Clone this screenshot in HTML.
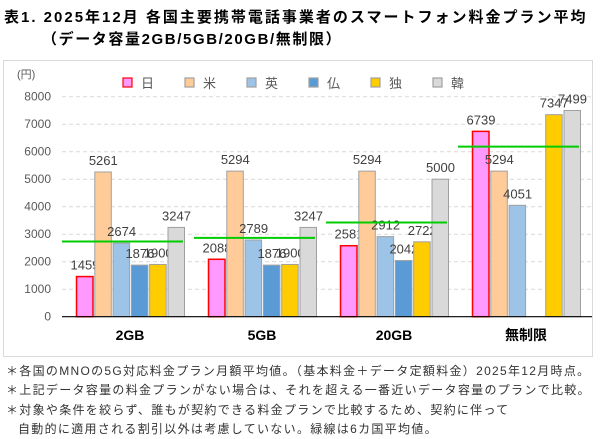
<!DOCTYPE html>
<html><head><meta charset="utf-8">
<style>
body{margin:0;background:#fff;width:603px;height:439px;overflow:hidden;font-family:"Liberation Sans","Noto Sans CJK JP",sans-serif;}
.t{position:absolute;font-weight:bold;font-size:15px;color:#000;white-space:nowrap;letter-spacing:2px;}
.n{position:absolute;left:6px;font-size:12px;color:#333;white-space:nowrap;letter-spacing:1.3px;}
</style></head><body>
<div class="t" style="left:4px;top:6px;">表1. 2025年12月 各国主要携帯電話事業者のスマートフォン料金プラン平均</div>
<div class="t" style="left:42px;top:28px;letter-spacing:1.6px;">（データ容量2GB/5GB/20GB/無制限）</div>
<svg id="chart" style="position:absolute;left:0;top:0" width="603" height="439"></svg>
<div class="n" style="top:362px;">＊各国のMNOの5G対応料金プラン月額平均値。（基本料金＋データ定額料金）2025年12月時点。</div>
<div class="n" style="top:381px;">＊上記データ容量の料金プランがない場合は、それを超える一番近いデータ容量のプランで比較。</div>
<div class="n" style="top:401px;">＊対象や条件を絞らず、誰もが契約できる料金プランで比較するため、契約に伴って</div>
<div class="n" style="top:420px;left:18px;">自動的に適用される割引以外は考慮していない。緑線は6カ国平均値。</div>
<script>
const categories=["2GB","5GB","20GB","無制限"];
const countries=["日","米","英","仏","独","韓"];
const japan=[1459,2088,2581,6739];
const usa=[5261,5294,5294,5294];
const uk=[2674,2789,2912,4051];
const france=[1876,1876,2042,null];
const germany=[1900,1900,2722,7347];
const korea=[3247,3247,5000,7499];
const yTicks=[0,1000,2000,3000,4000,5000,6000,7000,8000];
const series=[japan,usa,uk,france,germany,korea];
const fills=["#ff99ff","#ffcc99","#9dc3e6","#5b9bd5","#ffcc00","#d9d9d9"];
const strokes=["#ff0000","#a0a0a0","#a0a0a0","#a0a0a0","#a0a0a0","#a0a0a0"];
const svg=document.getElementById('chart');
const NS="http://www.w3.org/2000/svg";
function y(v){return 316.7-v*0.0275;}
function gx(i){return 76+i*132;}
function bx(i,j){return gx(i)+j*18.3;}
function mk(tag,attrs,parent){const e=document.createElementNS(NS,tag);for(const k in attrs)e.setAttribute(k,attrs[k]);(parent||svg).appendChild(e);return e;}
mk('rect',{x:3.5,y:60.5,width:589,height:296,fill:'none',stroke:'#d9d9d9'});
let el=mk('text',{x:17,y:78,'font-size':11,fill:'#595959'});el.textContent='(円)';


yTicks.forEach(t=>{
  if(t>0){const g=mk('line',{x1:62,x2:592,y1:y(t),y2:y(t),stroke:'#d9d9d9','stroke-dasharray':'4,3'});
  
  }
  const tx=mk('text',{x:51,y:y(t)+4,'font-size':12,fill:'#595959','text-anchor':'end'});tx.textContent=t;
  
  
});
categories.forEach((c,i)=>{
  series.forEach((s,j)=>{
    const v=s[i]; if(v==null)return;
    const r=mk('rect',{x:bx(i,j)+0.5,y:y(v),width:16.5,height:y(0)-y(v),fill:fills[j],stroke:strokes[j],'stroke-width':j==0?1.5:1});
    
    
    const l=mk('text',{x:bx(i,j)+9,y:y(v)-7,'font-size':13,fill:'#404040','text-anchor':'middle'});l.textContent=v;
    
    
  });
  const vals=series.map(s=>s[i]).filter(v=>v!=null);
  const avg=vals.reduce((a,b)=>a+b,0)/vals.length;
  const al=mk('line',{x1:gx(i)-14,x2:gx(i)+107,y1:y(avg),y2:y(avg),stroke:'#00cc00','stroke-width':2});
  
  
  const ct=mk('text',{x:gx(i)+54,y:340,'font-size':14,'font-weight':'bold',fill:'#000','text-anchor':'middle'});ct.textContent=c;
  
  
});
const ax=mk('line',{x1:62,x2:592,y1:y(0),y2:y(0),stroke:'#000','stroke-width':1.2});


countries.forEach((c,j)=>{
  const lx=123+j*62;
  const sq=mk('rect',{x:lx,y:78,width:9,height:9,fill:fills[j],stroke:strokes[j],'stroke-width':1.2});
  
  
  const lt=mk('text',{x:lx+18,y:88,'font-size':13,fill:'#595959'});lt.textContent=c;
  
  
});
</script>
</body></html>
